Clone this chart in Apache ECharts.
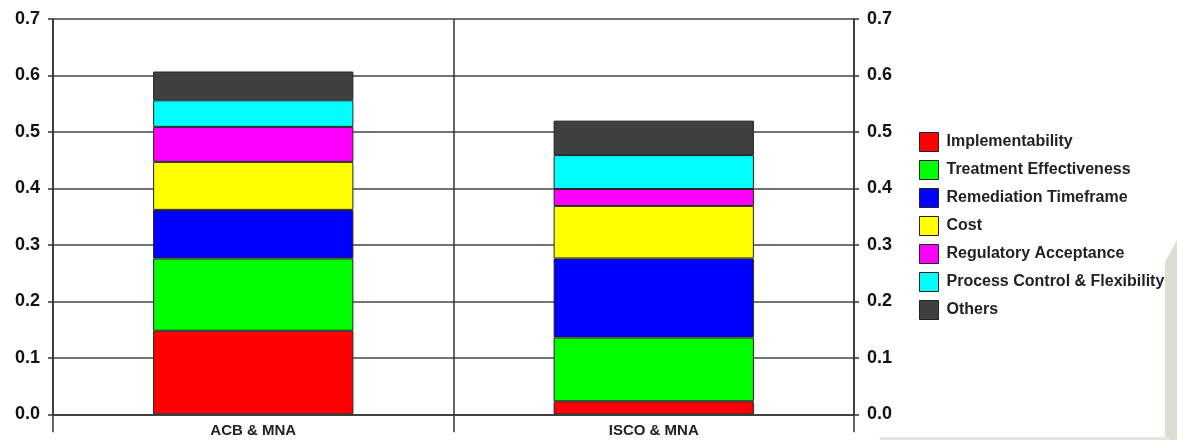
<!DOCTYPE html>
<html>
<head>
<meta charset="utf-8">
<script src="https://cdn.jsdelivr.net/npm/echarts@6/dist/echarts.min.js"></script>
<style>
html,body{margin:0;padding:0;background:#fff;}
#c{width:1177px;height:440px;}
</style>
</head>
<body>
<div id="c"></div>
<script>
const categories = ['ACB & MNA', 'ISCO & MNA'];
const seriesNames = ['Implementability', 'Treatment Effectiveness', 'Remediation Timeframe', 'Cost', 'Regulatory Acceptance', 'Process Control & Flexibility', 'Others'];
const implementability = [0.148, 0.023];
const treatmentEffectiveness = [0.128, 0.113];
const remediationTimeframe = [0.086, 0.140];
const cost = [0.085, 0.093];
const regulatoryAcceptance = [0.062, 0.030];
const processControl = [0.047, 0.060];
const others = [0.051, 0.061];
const colors = ['#ff0000', '#00ff00', '#0000ff', '#ffff00', '#ff00ff', '#00ffff', '#404040'];
const yTicks = [0, 0.1, 0.2, 0.3, 0.4, 0.5, 0.6, 0.7];

const values = [implementability, treatmentEffectiveness, remediationTimeframe, cost, regulatoryAcceptance, processControl, others];

const chart = echarts.init(document.getElementById('c'), null, {renderer: 'canvas'});
const font = 'Liberation Sans, Arial, sans-serif';
const yAxisBase = {
  type: 'value',
  min: yTicks[0],
  max: yTicks[yTicks.length - 1],
  interval: 0.1,
  axisLine: {show: true, lineStyle: {color: '#333', width: 1.5}},
  axisTick: {show: true, length: 5, lineStyle: {color: '#333', width: 1.5}},
  axisLabel: {
    formatter: v => v.toFixed(1),
    fontFamily: font, fontWeight: 'bold', fontSize: 18, color: '#111', margin: 13
  }
};
chart.setOption({
  animation: false,
  backgroundColor: '#ffffff',
  color: colors,
  grid: {left: 53, right: 323, top: 19, bottom: 25.7, containLabel: false},
  legend: {
    orient: 'vertical',
    left: 914, top: 127,
    itemWidth: 19, itemHeight: 19, itemGap: 8,
    data: seriesNames,
    icon: 'rect',
    itemStyle: {borderColor: '#222', borderWidth: 1},
    textStyle: {fontFamily: font, fontWeight: 'bold', fontSize: 16, color: '#222', padding: [0, 0, 0, 3]}
  },
  xAxis: {
    type: 'category',
    data: categories,
    axisLine: {show: true, lineStyle: {color: '#333', width: 1.5}},
    axisTick: {show: true, length: 18, alignWithLabel: false, lineStyle: {color: '#333', width: 1.5}},
    splitLine: {show: true, lineStyle: {color: '#333', width: 1.5}},
    axisLabel: {fontFamily: font, fontWeight: 'bold', fontSize: 15, color: '#222', margin: 9}
  },
  yAxis: [
    Object.assign({}, yAxisBase, {position: 'left', splitLine: {show: true, lineStyle: {color: '#444', width: 1.5}}}),
    Object.assign({}, yAxisBase, {position: 'right', splitLine: {show: false}})
  ],
  series: seriesNames.map((name, i) => ({
    name: name,
    type: 'bar',
    stack: 'total',
    barWidth: '50%',
    data: values[i],
    itemStyle: {color: colors[i], borderColor: '#222', borderWidth: 1}
  })),
  graphic: [
    {type: 'polygon', shape: {points: [[1165, 262], [1177, 240], [1177, 440], [1165, 440]]}, style: {fill: '#d9e0d3'}, silent: true},
    {type: 'rect', shape: {x: 880, y: 437, width: 290, height: 3}, style: {fill: '#e3e8df'}, silent: true}
  ]
});
</script>
</body>
</html>
